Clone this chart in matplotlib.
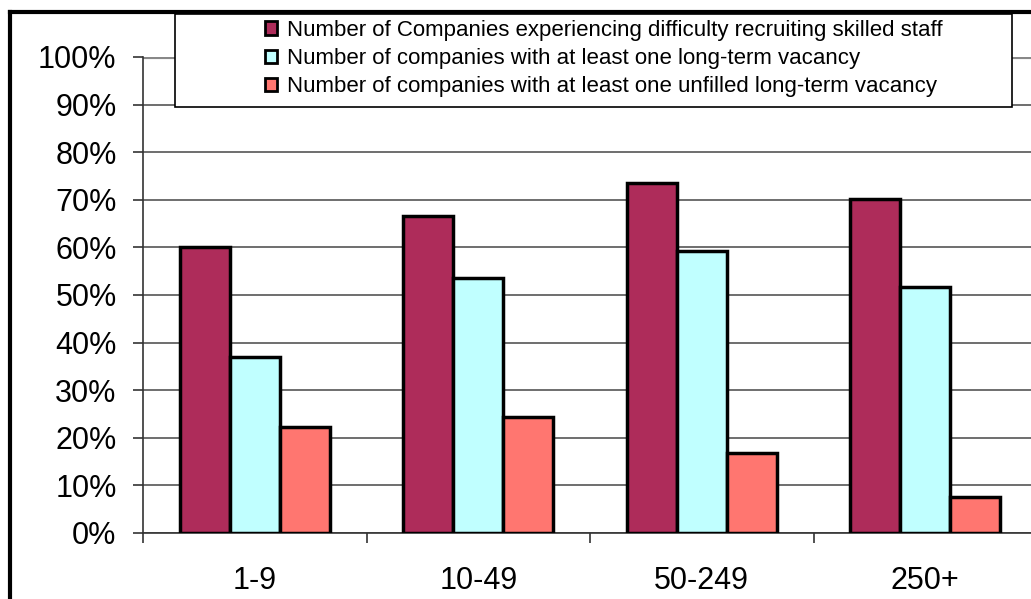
import matplotlib.pyplot as plt
import numpy as np
from matplotlib.patches import Rectangle, Patch
from matplotlib.lines import Line2D

plt.rcParams['font.family'] = ['Liberation Sans', 'DejaVu Sans']

# data
categories = ['1-9', '10-49', '50-249', '250+']
difficulty = [60.1, 66.5, 73.5, 70.2]
long_term = [37.0, 53.6, 59.2, 51.7]
unfilled = [22.2, 24.4, 16.8, 7.6]
series_labels = [
    'Number of Companies experiencing difficulty recruiting skilled staff',
    'Number of companies with at least one long-term vacancy',
    'Number of companies with at least one unfilled long-term vacancy',
]
colors = ['#AE2C5A', '#C0FFFF', '#FF7670']

W, H = 1031, 599
fig = plt.figure(figsize=(W / 100, H / 100), dpi=100)

# plot area (right edge runs past the crop like the original)
left, right, top, bottom = 143, 1037, 57, 533
ax = fig.add_axes([left / W, 1 - bottom / H, (right - left) / W, (bottom - top) / H])

x = np.arange(len(categories))
bw = 0.224
for i, (vals, c) in enumerate(zip([difficulty, long_term, unfilled], colors)):
    ax.bar(x + (i - 1) * bw, vals, bw, color=c, edgecolor='black', linewidth=2.5, zorder=3)

ax.set_xlim(-0.5, len(categories) - 0.5)
ax.set_ylim(0, 100)
ax.set_yticks(np.arange(0, 101, 10))
ax.set_yticklabels([f'{v}%' for v in range(0, 101, 10)], fontsize=22)
ax.yaxis.grid(True, color='#555555', linewidth=1.2, zorder=0)

ax.set_xticks(x)
ax.set_xticklabels(categories, fontsize=22)
ax.set_xticks(np.arange(-0.5, len(categories)), minor=True)
ax.tick_params(axis='x', which='major', length=0, pad=24)
ax.tick_params(axis='x', which='minor', length=7, width=1.2, color='#333333', direction='out')
ax.tick_params(axis='y', length=7, width=1.2, color='#333333', direction='out', pad=12)

for s in ['top', 'right']:
    ax.spines[s].set_visible(False)
ax.spines['left'].set_color('#333333')
ax.spines['left'].set_linewidth(1.2)
ax.spines['bottom'].set_color('#333333')
ax.spines['bottom'].set_linewidth(1.2)
ax.axhline(100, color='#888888', linewidth=3, zorder=2)

# chart area border (cropped at right/bottom)
fig.add_artist(Line2D([10 / W, 10 / W], [0, 1 - 12 / H], transform=fig.transFigure,
                      color='black', linewidth=3))
fig.add_artist(Line2D([10 / W, 1], [1 - 12 / H, 1 - 12 / H], transform=fig.transFigure,
                      color='black', linewidth=3))

# legend box
fig.add_artist(Rectangle((175 / W, 1 - 107 / H), (1012 - 175) / W, (107 - 14) / H,
                         transform=fig.transFigure, facecolor='white', edgecolor='black',
                         linewidth=1.2, zorder=5))
handles = [Patch(facecolor=c, edgecolor='black', linewidth=2) for c in colors]
leg = fig.legend(handles, series_labels, loc='upper left',
                 bbox_to_anchor=(247 / W, 1 - 2 / H), frameon=False, fontsize=16,
                 handlelength=0.55, handleheight=0.55, handletextpad=0.45,
                 labelspacing=0.33, borderpad=0.3)
leg.set_zorder(6)

fig.savefig('out.png', dpi=100)
